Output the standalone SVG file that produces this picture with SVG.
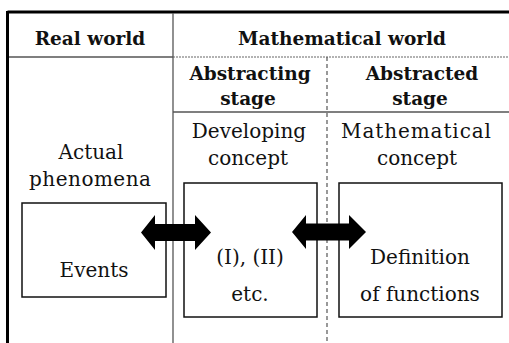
<svg xmlns="http://www.w3.org/2000/svg" width="509" height="343" viewBox="0 0 509 343">
<style>
text{font-family:"DejaVu Serif","Liberation Serif",serif;fill:#111;text-anchor:middle}
.b{font-weight:bold;font-size:18.5px}
.r{font-size:20px}
.box{fill:#fff;stroke:#111;stroke-width:1.5}
.grid{stroke:#555;stroke-width:1.3;fill:none}
.dash{stroke:#555;stroke-width:1.2;stroke-dasharray:4 3;fill:none}
.arrow{fill:#000}
</style>
<rect width="509" height="343" fill="#fff"/>
<g id="frame">
<line x1="7.5" y1="12" x2="509" y2="12" stroke="#000" stroke-width="3"/>
<line x1="7.5" y1="11" x2="7.5" y2="343" stroke="#000" stroke-width="3"/>
<line class="grid" x1="9" y1="57" x2="173" y2="57"/>
<line x1="173" y1="57" x2="509" y2="57" stroke="#666" stroke-width="1.2" stroke-dasharray="2 1"/>
<line class="grid" x1="173" y1="13" x2="173" y2="343"/>
<line class="grid" x1="173" y1="112" x2="509" y2="112"/>
<line class="dash" x1="327" y1="57" x2="327" y2="343"/>
</g>
<g id="headers">
<text class="b" x="90" y="45">Real world</text>
<text class="b" x="342" y="45">Mathematical world</text>
<text class="b" x="250" y="80">Abstracting</text>
<text class="b" x="248" y="105">stage</text>
<text class="b" x="422" y="80">Abstracted</text>
<text class="b" x="420" y="105">stage</text>
<text class="r" x="249" y="138">Developing</text>
<text class="r" x="248" y="165">concept</text>
<text class="r" x="416" y="138" textLength="150">Mathematical</text>
<text class="r" x="417" y="165">concept</text>
<text class="r" x="91" y="159">Actual</text>
<text class="r" x="90" y="186" textLength="122">phenomena</text>
</g>
<g id="events">
<rect class="box" x="22" y="203" width="144" height="94"/>
<text class="r" x="94" y="277">Events</text>
</g>
<g id="developing">
<rect class="box" x="184" y="183" width="133" height="134"/>
<text class="r" x="250" y="264">(I), (II)</text>
<text class="r" x="250" y="301">etc.</text>
</g>
<g id="definition">
<rect class="box" x="339" y="183" width="163" height="134"/>
<text class="r" x="420" y="264">Definition</text>
<text class="r" x="420" y="301">of functions</text>
</g>
<g id="connectors">
<polygon class="arrow" points="141,232.5 155,215 155,224 195,224 195,215 211,232.5 195,250 195,241 155,241 155,250"/>
<polygon class="arrow" points="292,232 306,215 306,223.5 349,223.5 349,215 366,232 349,249 349,240.5 306,240.5 306,249"/>
</g>
</svg>
